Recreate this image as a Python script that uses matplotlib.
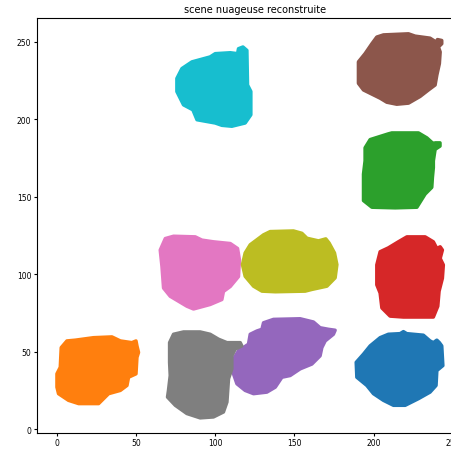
import numpy as np
import matplotlib.pyplot as plt

# outlines of the reconstructed clouds (x, y), one per cluster
blue_x = [204.1, 209.3, 216.7, 218.8, 220.9, 231.4, 235.6, 237.7, 239.9, 241.5, 243.0, 243.7, 239.9, 239.4,
          235.6, 228.3, 219.9, 212.5, 206.2, 199.9, 195.7, 189.4, 189.0, 193.6, 197.8]
blue_y = [59.1, 61.3, 61.7, 63.0, 61.7, 60.7, 57.0, 55.9, 57.5, 55.9, 53.8, 41.1, 37.9, 28.3,
          24.0, 19.8, 15.5, 15.5, 18.7, 23.0, 28.3, 33.6, 43.2, 48.5, 53.8]

orange_x = [6.4, 11.7, 23.2, 34.8, 40.1, 47.4, 50.0, 50.6, 51.6, 50.6, 50.0, 45.3, 44.3, 40.1, 32.7, 26.4,
            13.8, 7.4, 1.1, 0.1, 0.1, 2.2, 2.8]
orange_y = [57.0, 57.5, 59.1, 59.6, 57.0, 55.9, 57.0, 53.8, 49.6, 46.4, 35.8, 33.6, 28.3, 25.1, 23.0, 16.6,
            16.6, 18.7, 23.0, 27.2, 35.8, 40.0, 52.7]

green_x = [197.8, 209.3, 211.5, 228.3, 233.6, 237.7, 238.8, 241.9, 241.9, 238.8, 237.7, 237.7, 237.1, 236.7,
           232.5, 227.3, 213.6, 198.9, 193.6, 193.6, 194.6, 194.6]
green_y = [186.8, 190.5, 191.1, 191.1, 187.9, 184.1, 184.7, 184.7, 182.6, 180.5, 173.1, 168.8, 162.4, 156.0,
           151.7, 143.2, 142.8, 143.2, 147.5, 164.5, 173.1, 181.5]

red_x = [215.6, 221.0, 232.5, 237.7, 239.9, 242.0, 243.4, 242.0, 244.0, 243.4, 241.3, 240.5, 237.7, 218.8,
         210.4, 205.2, 204.1, 202.0, 202.0, 204.1, 209.3]
red_y = [120.9, 124.1, 124.1, 120.9, 116.6, 117.7, 115.6, 110.2, 106.0, 97.4, 89.0, 79.4, 72.4, 72.4,
         73.0, 78.3, 87.9, 93.2, 106.0, 114.5, 117.0]

purple_x = [130.5, 136.8, 153.6, 162.0, 166.2, 171.5, 175.7, 174.6, 169.4, 167.3, 166.2, 161.0, 153.6, 147.3,
            142.1, 137.9, 132.6, 124.2, 118.9, 113.7, 111.2, 111.5, 114.7, 121.0, 122.1, 126.3, 129.5]
purple_y = [68.7, 70.9, 71.3, 69.2, 65.5, 64.5, 63.9, 61.3, 57.0, 52.7, 47.4, 42.1, 39.0, 34.7,
            33.6, 27.2, 24.0, 23.0, 25.1, 29.4, 36.8, 45.3, 50.6, 54.9, 61.3, 63.4, 64.5]

brown_x = [206.2, 222.0, 226.2, 235.6, 239.4, 240.3, 243.0, 243.0, 240.9, 242.0, 241.5, 239.9, 238.8, 234.6,
           229.3, 222.0, 214.6, 208.3, 204.1, 193.6, 190.4, 190.4, 194.6, 198.9, 202.0]
brown_y = [254.3, 255.0, 253.5, 252.2, 249.7, 251.3, 250.7, 248.6, 246.5, 243.3, 235.8, 228.4, 222.0, 218.8,
           214.6, 210.3, 209.6, 210.9, 213.5, 218.8, 223.1, 236.9, 242.2, 248.6, 252.9]

pink_x = [68.5, 73.7, 87.4, 91.6, 98.9, 109.5, 114.1, 115.3, 114.7, 109.5, 105.2, 104.2, 96.8, 86.3,
          82.1, 71.6, 67.4, 66.4, 65.3]
pink_y = [123.0, 124.5, 124.1, 122.0, 120.9, 119.8, 116.6, 109.2, 98.5, 92.1, 88.9, 83.7, 80.5, 77.6,
          79.4, 85.8, 91.1, 104.9, 115.6]

gray_x = [73.7, 80.0, 90.5, 96.8, 102.1, 107.4, 115.8, 116.8, 112.6, 110.5, 110.5, 108.4, 107.4, 105.2,
          98.9, 90.5, 82.1, 74.8, 69.9, 70.5, 71.6, 71.2, 71.2]
gray_y = [61.3, 62.8, 62.8, 61.3, 58.1, 55.9, 55.9, 53.8, 51.7, 47.4, 39.0, 32.6, 17.6, 11.2,
          8.0, 7.4, 10.2, 15.5, 20.8, 25.1, 34.7, 43.2, 55.9]

olive_x = [130.5, 134.7, 149.4, 154.7, 157.9, 165.2, 169.8, 171.9, 175.3, 176.8, 175.7, 170.5, 161.0, 156.8,
           137.9, 129.5, 124.2, 118.9, 117.2, 118.9, 122.1, 126.3]
olive_y = [125.4, 127.5, 127.9, 126.4, 123.2, 121.5, 122.8, 120.1, 113.7, 106.2, 97.7, 92.3, 90.2, 89.1,
           88.7, 89.1, 92.3, 98.7, 106.2, 113.7, 119.0, 122.2]

cyan_x = [85.3, 96.8, 100.0, 109.5, 114.1, 114.7, 117.5, 120.0, 120.4, 122.5, 122.5, 118.9, 110.5, 104.2,
          100.0, 88.5, 85.9, 80.0, 75.8, 75.8, 79.0]
cyan_y = [236.9, 240.1, 242.2, 242.8, 242.2, 245.4, 246.5, 244.3, 222.0, 217.8, 202.8, 197.5, 195.4, 196.0,
          197.5, 199.6, 206.0, 209.2, 217.8, 226.2, 232.6]

clouds = [(blue_x, blue_y), (orange_x, orange_y), (green_x, green_y), (red_x, red_y),
          (purple_x, purple_y), (brown_x, brown_y), (pink_x, pink_y), (gray_x, gray_y),
          (olive_x, olive_y), (cyan_x, cyan_y)]

fig = plt.figure(figsize=(4.51, 4.52), dpi=100)
ax = fig.add_axes([0.082, 0.04, 0.966, 0.918])

for i, (cx, cy) in enumerate(clouds):
    ax.fill(cx, cy, color='C%d' % i, edgecolor='C%d' % i, linewidth=2.5, joinstyle='round')

ax.set_xlim(-12.5, 262.5)
ax.set_ylim(-2.3, 265.2)
ax.set_xticks(np.arange(0, 251, 50))
ax.set_yticks(np.arange(0, 251, 50))
ax.tick_params(labelsize=5.5, length=2.5, pad=1.5)
ax.set_title('scene nuageuse reconstruite', fontsize=7, pad=4)

plt.savefig('out.png', dpi=100)
